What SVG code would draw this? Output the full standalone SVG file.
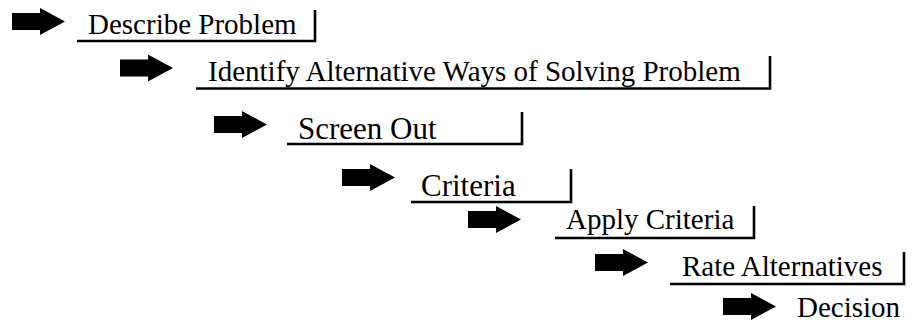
<svg xmlns="http://www.w3.org/2000/svg" xmlns:xlink="http://www.w3.org/1999/xlink" width="915" height="329" viewBox="0 0 915 329">
<style>
.t{font-family:"Liberation Serif","Times New Roman",serif;font-size:29px;fill:#000}
.t2{font-size:31px}
.u{fill:none;stroke:#000;stroke-width:2.6;stroke-linejoin:miter}
.a{fill:#000}
</style>
<defs>
<path id="arr" class="a" d="M0,-8.5 H28 V-13.5 L53,0 L28,13.5 V8.5 H0 Z"/>
</defs>
<rect width="915" height="329" fill="#fff"/>
<g id="connectors">
<use xlink:href="#arr" transform="translate(12,21.5)"/>
<use xlink:href="#arr" transform="translate(120,68)"/>
<use xlink:href="#arr" transform="translate(214,124.5)"/>
<use xlink:href="#arr" transform="translate(342,177.5)"/>
<use xlink:href="#arr" transform="translate(468,219.5)"/>
<use xlink:href="#arr" transform="translate(595,262.5)"/>
<use xlink:href="#arr" transform="translate(723,306.5)"/>
</g>
<g id="describe">
<text class="t" x="88" y="34">Describe Problem</text>
<path class="u" d="M77,41 H315 V10"/>
</g>
<g id="identify">
<text class="t" x="208" y="81">Identify Alternative Ways of Solving Problem</text>
<path class="u" d="M196,88.5 H770 V56"/>
</g>
<g id="screen">
<text class="t t2" x="298" y="139">Screen Out</text>
<path class="u" d="M287,144 H522 V112"/>
</g>
<g id="criteria">
<text class="t t2" x="421" y="196">Criteria</text>
<path class="u" d="M411,202 H571 V169"/>
</g>
<g id="apply">
<text class="t" x="566" y="229">Apply Criteria</text>
<path class="u" d="M555,238 H754 V206"/>
</g>
<g id="rate">
<text class="t" x="682" y="276">Rate Alternatives</text>
<path class="u" d="M670,284 H904 V252"/>
</g>
<g id="decision">
<text class="t" x="797" y="317">Decision</text>
</g>
</svg>
